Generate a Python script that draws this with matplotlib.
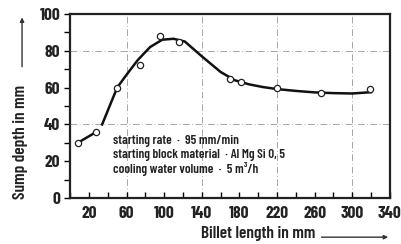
import matplotlib
matplotlib.use("Agg")
import matplotlib.pyplot as plt
from matplotlib.patches import FancyArrowPatch

# measured points (circles)
billet_len = [8, 28, 50, 74, 96, 116, 170, 182, 220, 267, 319]
sump_depth = [30, 36, 60, 72, 88, 85, 64.5, 63, 60, 57, 59]

# fitted curve
curve_x = [8, 28, None, 34, 42, 50, 60, 72, 85, 98, 110, 122, 140, 160, 175, 190, 205, 220, 240, 260, 280, 300, 320]
curve_y = [30, 36, None, 40, 50, 60, 67, 75, 82, 86, 86.5, 85, 77, 68.5, 64, 61.8, 60.3, 59.2, 58.2, 57.4, 57, 56.8, 57.5]

x_ticks = [20, 60, 100, 140, 180, 220, 260, 300, 340]
y_ticks = [0, 20, 40, 60, 80, 100]
x_grid = [60, 140, 220, 300]
y_grid = [40, 80]

notes = ["starting rate  \u00b7  95 mm/min",
         "starting block material  \u00b7 Al Mg Si 0, 5",
         "cooling water volume  \u00b7  5 m\u00b3/h"]

fam = ["Barlow Condensed", "DejaVu Sans"]
font = dict(family=fam, fontweight=600, color="#222222")

fig = plt.figure(figsize=(4.01, 2.44), dpi=100)
ax = fig.add_axes([0.175, 0.188, 0.797, 0.755])

for gx in x_grid:
    ax.axvline(gx, color="#999999", lw=0.6, ls=(0, (8, 3, 1, 3)), zorder=1)
for gy in y_grid:
    ax.axhline(gy, color="#999999", lw=0.6, ls=(0, (8, 3, 1, 3)), zorder=1)

cx = [v if v is not None else float("nan") for v in curve_x]
cy = [v if v is not None else float("nan") for v in curve_y]
ax.plot(cx, cy, color="#111111", lw=1.8, zorder=2)
ax.plot(billet_len, sump_depth, "o", mfc="white", mec="#222222", mew=0.9, ms=4.5, zorder=3)

ax.set_xlim(0, 340)
ax.set_ylim(0, 100)
ax.set_xticks(x_ticks)
ax.set_yticks(y_ticks)
ax.set_xticks(range(0, 341, 20), minor=True)
ax.set_yticks(range(0, 101, 10), minor=True)
ax.tick_params(axis="x", direction="in", length=4, width=1, which="both", pad=6)
ax.tick_params(axis="y", direction="out", length=4, width=1, which="both", pad=3)
for lab in ax.get_xticklabels() + ax.get_yticklabels():
    lab.set_fontsize(12.5)
    lab.set_fontweight(700)
    lab.set_family(fam)
    lab.set_color("#222222")

for s in ax.spines.values():
    s.set_linewidth(1.6)
    s.set_color("#222222")

for i, t in enumerate(notes):
    ax.text(0.135, 0.31 - i * 0.075, t, transform=ax.transAxes, fontsize=9.5, va="center", ha="left", **font)

# axis labels with arrows
fig.text(0.05, 0.418, "Sump depth in mm", rotation=90, ha="center", va="center", fontsize=12.5, **font)
fig.add_artist(FancyArrowPatch((0.055, 0.715), (0.055, 0.94), transform=fig.transFigure,
                               arrowstyle="-|>", mutation_scale=6, lw=1, color="#333333"))
fig.text(0.643, 0.045, "Billet length in mm", ha="center", va="center", fontsize=12.5, **font)
fig.add_artist(FancyArrowPatch((0.795, 0.028), (0.975, 0.028), transform=fig.transFigure,
                               arrowstyle="-|>", mutation_scale=6, lw=1, color="#333333"))

fig.savefig("out.png", dpi=100)
